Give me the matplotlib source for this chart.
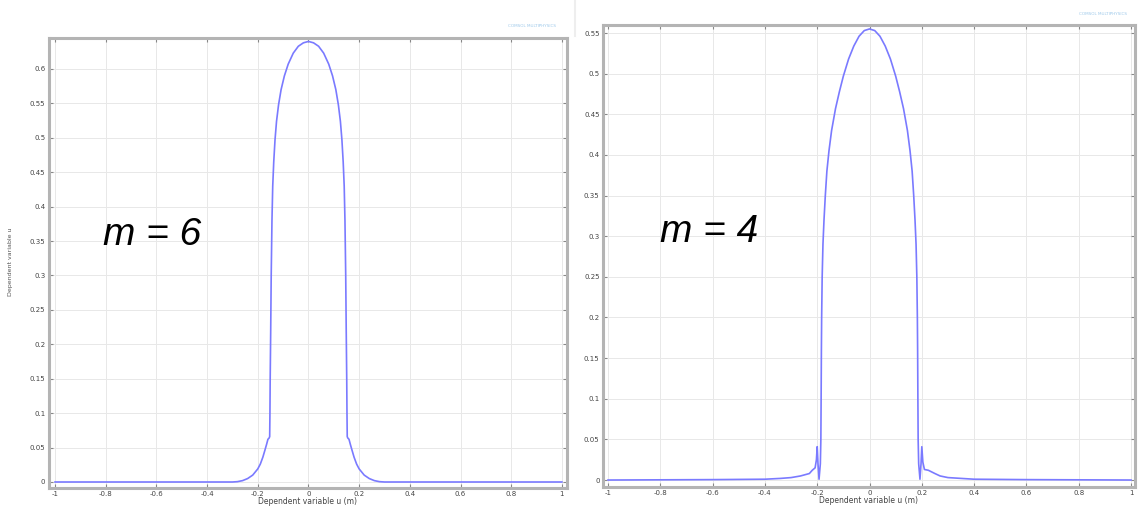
import matplotlib
matplotlib.use('Agg')
import matplotlib.pyplot as plt
from matplotlib.ticker import FormatStrFormatter, MultipleLocator

# m = 6 profile
x_m6 = [-1.0, -0.30, -0.28, -0.26, -0.24, -0.22, -0.20, -0.19, -0.18, -0.172,
        -0.165, -0.160, -0.155, -0.153, -0.152, -0.151, -0.149, -0.147, -0.144,
        -0.141, -0.137, -0.132, -0.126, -0.118, -0.108, -0.095, -0.08, -0.06,
        -0.04, -0.02, 0.0,
        0.02, 0.04, 0.06, 0.08, 0.095, 0.108, 0.118, 0.126, 0.132, 0.137,
        0.141, 0.144, 0.147, 0.149, 0.151, 0.152, 0.153, 0.155, 0.160, 0.165,
        0.172, 0.18, 0.19, 0.20, 0.22, 0.24, 0.26, 0.28, 0.30, 1.0]
u_m6 = [0.0, 0.0, 0.0005, 0.002, 0.005, 0.010, 0.019, 0.026, 0.036, 0.046,
        0.055, 0.062, 0.064, 0.066, 0.10, 0.15, 0.22, 0.30, 0.38,
        0.43, 0.465, 0.497, 0.524, 0.548, 0.570, 0.59, 0.607, 0.623,
        0.633, 0.638, 0.640,
        0.638, 0.633, 0.623, 0.607, 0.59, 0.570, 0.548, 0.524, 0.497, 0.465,
        0.43, 0.38, 0.30, 0.22, 0.15, 0.10, 0.066, 0.064, 0.062, 0.055,
        0.046, 0.036, 0.026, 0.019, 0.010, 0.005, 0.002, 0.0005, 0.0, 0.0]

# m = 4 profile
x_m4 = [-1.0, -0.6, -0.4, -0.34, -0.30, -0.264, -0.23, -0.219, -0.208, -0.203,
        -0.200, -0.197, -0.193, -0.188, -0.186, -0.185, -0.184, -0.183, -0.181,
        -0.178, -0.174, -0.169, -0.163, -0.155, -0.145, -0.13, -0.115, -0.10,
        -0.08, -0.06, -0.04, -0.02, 0.0,
        0.02, 0.04, 0.06, 0.08, 0.10, 0.115, 0.13, 0.145, 0.155, 0.163,
        0.169, 0.174, 0.178, 0.181, 0.183, 0.184, 0.185, 0.186, 0.188, 0.193,
        0.197, 0.200, 0.204, 0.21, 0.225, 0.25, 0.27, 0.30, 0.35, 0.4, 0.6, 1.0]
u_m4 = [0.0, 0.0005, 0.001, 0.002, 0.003, 0.005, 0.008, 0.012, 0.015, 0.025,
        0.041, 0.02, 0.001, 0.02, 0.05, 0.10, 0.16, 0.20, 0.25,
        0.29, 0.32, 0.35, 0.38, 0.405, 0.43, 0.457, 0.478, 0.497,
        0.518, 0.534, 0.546, 0.553, 0.555,
        0.553, 0.546, 0.534, 0.518, 0.497, 0.478, 0.457, 0.43, 0.405, 0.38,
        0.35, 0.32, 0.29, 0.25, 0.20, 0.16, 0.10, 0.05, 0.02, 0.001,
        0.02, 0.041, 0.022, 0.013, 0.012, 0.008, 0.005, 0.003, 0.002, 0.001,
        0.0005, 0.0]

x_ticks = [-1, -0.8, -0.6, -0.4, -0.2, 0, 0.2, 0.4, 0.6, 0.8, 1]

line_col = '#7a7aff'
frame_col = '#b4b4b4'

fig = plt.figure(figsize=(11.41, 5.08), dpi=100)
fig.patch.set_facecolor('white')


def style(ax, ylim, xlim, ystep):
    ax.set_xlim(*xlim)
    ax.set_ylim(*ylim)
    ax.set_xticks(x_ticks)
    ax.yaxis.set_major_locator(MultipleLocator(ystep))
    ax.xaxis.set_major_formatter(FormatStrFormatter('%g'))
    ax.yaxis.set_major_formatter(FormatStrFormatter('%g'))
    ax.grid(True, color='#e8e8e8', lw=0.7)
    ax.set_axisbelow(True)
    for s in ax.spines.values():
        s.set_color(frame_col)
        s.set_linewidth(2.2)
    ax.tick_params(direction='in', length=3, width=0.8, color='#888888',
                   labelsize=5, labelcolor='#444444', pad=2.5,
                   top=True, right=True)
    ax.tick_params(axis='x', pad=2)
    ax.set_xlabel('Dependent variable u (m)', fontsize=5.5, color='#444444',
                  labelpad=0.5)


ax1 = fig.add_axes([0.0429, 0.0394, 0.454, 0.8858])
ax1.plot(x_m6, u_m6, color=line_col, lw=1.2)
style(ax1, (-0.0087, 0.645), (-1.024, 1.02), 0.05)
ax1.text(0.2, 0.562, 'm = 6', transform=ax1.transAxes, fontsize=28,
         style='italic', family='Liberation Sans', ha='center', va='center')

ax2 = fig.add_axes([0.5285, 0.0413, 0.4662, 0.9094])
ax2.plot(x_m4, u_m4, color=line_col, lw=1.2)
style(ax2, (-0.0086, 0.5598), (-1.019, 1.015), 0.05)
ax2.text(0.2, 0.552, 'm = 4', transform=ax2.transAxes, fontsize=28,
         style='italic', family='Liberation Sans', ha='center', va='center')

# clipped y label at the far left
fig.text(0.0096, 0.485, 'Dependent variable u', rotation=90, fontsize=4.5,
         color='#555555', ha='center', va='center')

# faint logos and separator
fig.text(0.487, 0.948, 'COMSOL MULTIPHYSICS', fontsize=3, color='#9cc8ea',
         ha='right', va='center')
fig.text(0.988, 0.973, 'COMSOL MULTIPHYSICS', fontsize=3, color='#9cc8ea',
         ha='right', va='center')
fig.add_artist(plt.Line2D([0.504, 0.504], [0.93, 1.0], color='#eeeeee',
                          lw=1.5, transform=fig.transFigure))

fig.savefig('out.png', dpi=100)
